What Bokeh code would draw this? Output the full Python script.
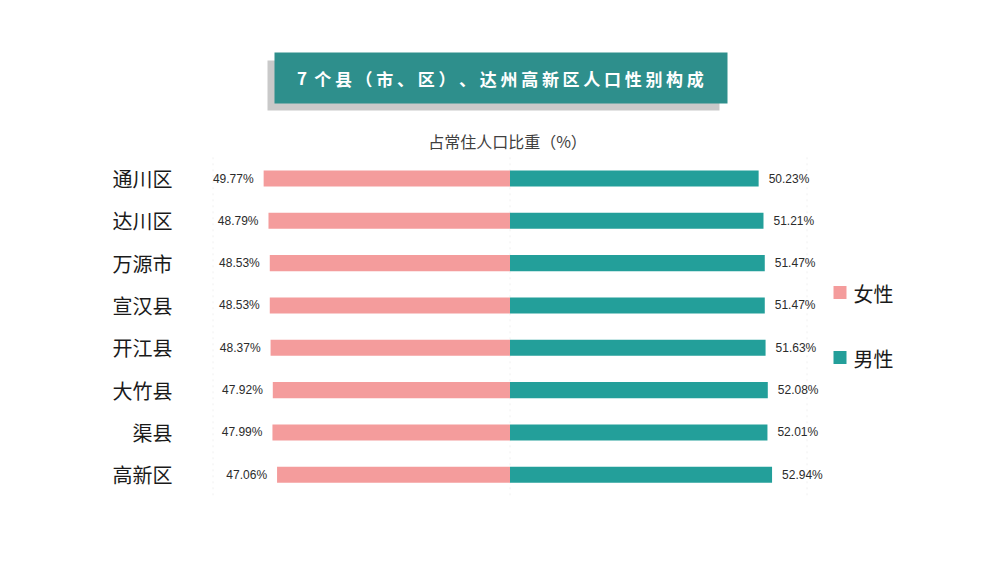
from bokeh.plotting import figure
from bokeh.models import Range1d, ColumnDataSource
from bokeh.core.properties import value
from bokeh.embed import file_html
from bokeh.resources import INLINE

# ---- data ----
categories = ["通川区", "达川区", "万源市", "宣汉县", "开江县", "大竹县", "渠县", "高新区"]
female = [49.77, 48.79, 48.53, 48.53, 48.37, 47.92, 47.99, 47.06]
male = [50.23, 51.21, 51.47, 51.47, 51.63, 52.08, 52.01, 52.94]
series_names = ["女性", "男性"]
title_text = "7个县（市、区）、达州高新区人口性别构成"
subtitle_text = "占常住人口比重（%）"
grid_ticks = [-60, 0, 60]

# ---- styling / layout ----
W, H = 984, 547
PX = 4.95          # pixels per percentage unit
ZERO_X = 509.5     # px of x = 0
ROW0_Y = 178.0     # px (from top) of first row centre
ROW_H = 42.33      # px between rows
C_F = "#F49C9C"
C_M = "#239F9A"
C_TITLE = "#2E8F8C"
C_SHADOW = "#C9C9C9"
CJK = "Noto Sans CJK SC"

def X(px):
    return (px - ZERO_X) / PX

def Y(py):
    return (py - ROW0_Y) / ROW_H

p = figure(width=W, height=H, output_backend="svg", toolbar_location=None,
           x_range=Range1d(X(0), X(W)), y_range=Range1d(Y(H), Y(0)),
           min_border=0, min_border_left=0, min_border_right=0,
           min_border_top=0, min_border_bottom=0)
p.axis.visible = False
p.grid.visible = False
p.outline_line_color = None
p.background_fill_color = "white"
p.border_fill_color = "white"

rows = list(range(len(categories)))
src = ColumnDataSource(dict(
    y=rows, cat=categories,
    fl=[-v for v in female], fr=[0] * len(female),
    mr=male, ml=[0] * len(male),
    flab=[f"{v:.2f}%" for v in female],
    mlab=[f"{v:.2f}%" for v in male],
))

# faint dotted grid lines
p.segment(x0=grid_ticks, x1=grid_ticks,
          y0=[-0.5] * len(grid_ticks), y1=[len(categories) - 0.46] * len(grid_ticks),
          line_color="#f0f0f0", line_dash="dotted", line_width=1)

# bars
p.hbar(y="y", left="fl", right="fr", height=0.38, source=src,
       fill_color=C_F, line_color=None)
p.hbar(y="y", left="ml", right="mr", height=0.38, source=src,
       fill_color=C_M, line_color=None)

# value labels
p.text(x="fl", y="y", text="flab", source=src, x_offset=-10,
       text_align="right", text_baseline="middle",
       text_font=value("Liberation Sans"), text_font_size="12px", text_color="#2b2b2b")
p.text(x="mr", y="y", text="mlab", source=src, x_offset=10,
       text_align="left", text_baseline="middle",
       text_font=value("Liberation Sans"), text_font_size="12px", text_color="#2b2b2b")

# category labels
p.text(x=X(172), y="y", text="cat", source=src,
       text_align="right", text_baseline="middle",
       text_font=value(CJK), text_font_size="20px", text_color="#1a1a1a")

# title box with shadow
p.quad(left=[X(267)], right=[X(719)], top=[Y(60)], bottom=[Y(110)],
       fill_color=C_SHADOW, line_color=None)
p.quad(left=[X(274)], right=[X(727)], top=[Y(52)], bottom=[Y(103)],
       fill_color=C_TITLE, line_color=None)
chars = list(title_text)
pitch = 20.7
start = 301.5
p.text(x=[X(start + i * pitch) for i in range(len(chars))], y=[Y(78)] * len(chars),
       text=chars, text_align="center", text_baseline="middle",
       text_font=value(CJK), text_font_style="bold", text_font_size="17px",
       text_color="white")

# subtitle
p.text(x=[X(507)], y=[Y(140)], text=[subtitle_text], text_align="center",
       text_baseline="middle", text_font=value(CJK), text_font_size="16px",
       text_color="#404040")

# legend
p.scatter(x=[X(839.5), X(839.5)], y=[Y(292), Y(357)], marker="square", size=13,
          fill_color=[C_F, C_M], line_color=None)
p.text(x=[X(853), X(853)], y=[Y(293), Y(358)], text=series_names,
       text_align="left", text_baseline="middle",
       text_font=value(CJK), text_font_size="20px", text_color="#1a1a1a")

open("out.html", "w").write(file_html(p, INLINE))
